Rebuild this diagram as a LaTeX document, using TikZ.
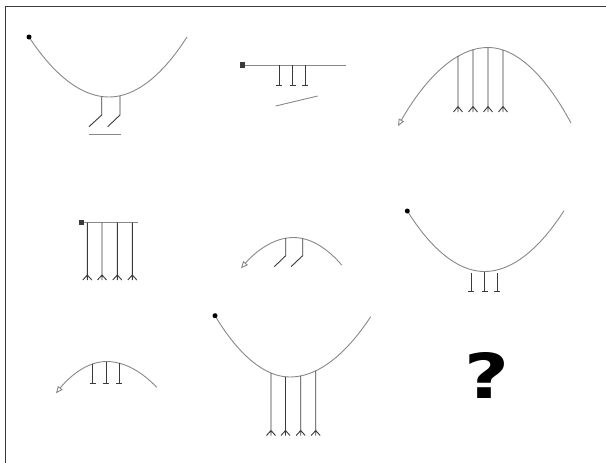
\documentclass[tikz,border=0pt]{standalone}
\usepackage{fontspec}
\newfontfamily\qmarkfont{DejaVu Sans}
\usetikzlibrary{arrows.meta}
\definecolor{curvegray}{HTML}{888888}
\definecolor{leggray}{HTML}{3A3A3A}
\begin{document}
\begin{tikzpicture}[x=1pt, y=-1pt,
	curve/.style={curvegray, line width=0.9pt},
	leg/.style={leggray, line width=0.9pt},
	tip/.style={{Triangle[open, length=7pt, width=6pt]}-}]
	\useasboundingbox (0,0) rectangle (606,463);
	% frame
	\draw[leggray, line width=1pt] (5,463) -- (5,6) -- (606,6);

	% top row
	\draw[curve] (29,37) parabola bend (109,97) (187,37);
	\fill[black] (29,37) circle (2.5);
	\draw[leg] (101.7,96.5) -- (101.7,115) -- (89,126.7);
	\draw[leg] (120,96) -- (120,115) -- (107.7,126.7);
	\draw[curve] (89,134) -- (121,134);

	\draw[curve] (242.3,65) -- (345.7,65);
	\fill[leggray] (242.3,65) +(-2.7,-2.7) rectangle +(2.7,2.7);
	\foreach \x in {279.3, 292.7, 305.3}
		\draw[leg] (\x,65) -- (\x,85) (\x-3,85) -- (\x+3,85);
	\draw[curve] (275.7,106) -- (317.7,96);

	\draw[curve, tip] (398,126) parabola bend (488,47.5) (571,123);
	\foreach \x/\t in {458/56.2, 473/49.7, 488/47.5, 503/50}
		\draw[leg] (\x,\t) -- (\x,112) (\x-4.5,112) -- (\x,106.5) -- (\x+4.5,112);

	% middle row
	\draw[curve] (81.3,222.5) -- (137.7,222.5);
	\fill[leggray] (81.3,222.5) +(-2.7,-2.7) rectangle +(2.7,2.7);
	\foreach \x in {87.3, 102, 117.3, 132.3}
		\draw[leg] (\x,222.5) -- (\x,280) (\x-4.5,280) -- (\x,275) -- (\x+4.5,280);

	\draw[curve, tip] (241,268.3) parabola bend (293.5,237.5) (341.7,265);
	\draw[leg] (285.7,238.2) -- (285.7,255.7) -- (274.3,266.7);
	\draw[leg] (302.7,238.5) -- (302.7,255.7) -- (291,266.7);

	\draw[curve] (407.3,211) parabola bend (484.5,271.5) (564,210.7);
	\fill[black] (407.3,211) circle (2.5);
	\foreach \x/\t in {471/273.3, 484.5/271.5, 497/273}
		\draw[leg] (\x,\t) -- (\x,291.7) (\x-3,291.7) -- (\x+3,291.7);

	% bottom row
	\draw[curve, tip] (56,393.3) parabola bend (106.5,361.5) (156.7,387.3);
	\foreach \x/\t in {92.7/363.9, 106/361.5, 119.3/363.2}
		\draw[leg] (\x,\t) -- (\x,383.3) (\x-3,383.3) -- (\x+3,383.3);

	\draw[curve] (215,315.7) parabola bend (290,377) (370.7,316.7);
	\fill[black] (215,315.7) circle (2.5);
	\foreach \x/\t in {271/373.1, 285.5/376.8, 300.7/375.9, 315.7/370.9}
		\draw[leg] (\x,\t) -- (\x,435.5) (\x-4.5,435.5) -- (\x,430.5) -- (\x+4.5,435.5);

	\node[inner sep=0pt, xscale=1.25] (qmark) at (486.5,375.5)
		{\qmarkfont\bfseries\fontsize{62}{62}\selectfont ?};
\end{tikzpicture}
\end{document}
